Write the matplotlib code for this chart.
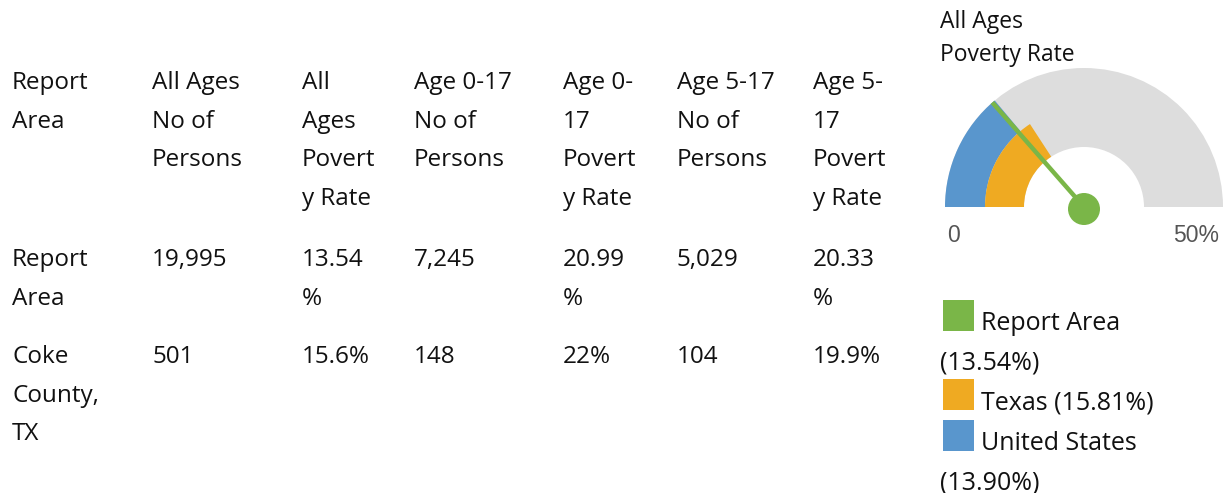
import matplotlib.pyplot as plt
from matplotlib.patches import Wedge, Circle, Rectangle
import numpy as np

# table contents (line breaks as wrapped in the source)
header = ["Report\nArea", "All Ages\nNo of\nPersons", "All\nAges\nPovert\ny Rate",
          "Age 0-17\nNo of\nPersons", "Age 0-\n17\nPovert\ny Rate",
          "Age 5-17\nNo of\nPersons", "Age 5-\n17\nPovert\ny Rate"]
row_report = ["Report\nArea", "19,995", "13.54\n%", "7,245", "20.99\n%", "5,029", "20.33\n%"]
row_coke = ["Coke\nCounty,\nTX", "501", "15.6%", "148", "22%", "104", "19.9%"]

# gauge data
gauge_title = "All Ages\nPoverty Rate"
gauge_max = 50
area_names = ["Report Area", "Texas", "United States"]
area_rates = [13.54, 15.81, 13.90]
area_colors = ["#7ab648", "#efaa22", "#5996cd"]

W, H = 1225, 493
fig = plt.figure(figsize=(W / 100, H / 100), dpi=100)
ax = fig.add_axes([0, 0, 1, 1])
ax.set_xlim(0, W)
ax.set_ylim(H, 0)
ax.axis("off")

FONT = "Open Sans"
FS = 17.5
col_x = [12, 152, 302, 414, 563, 677, 813]
pitch = 38.6


def cell(x, y, s, **kw):
    for k, line in enumerate(s.split("\n")):
        ax.text(x, y + k * pitch, line, ha="left", va="baseline",
                family=FONT, fontsize=FS, color="#111111", **kw)


for row, y0 in [(header, 89), (row_report, 266), (row_coke, 363)]:
    for x, s in zip(col_x, row):
        cell(x, y0, s)

# gauge title
for k, line in enumerate(gauge_title.split("\n")):
    ax.text(940, 28 + k * 33, line, ha="left", va="baseline",
            family=FONT, fontsize=16.5, color="#111111")

# gauge
cx, cy = 1084, 207
r_out, r_mid, r_in = 139, 99, 60


def ang(v):
    # y axis is inverted, so the upper half is 180..360 in data angles
    return 180 + v / gauge_max * 180


ax.add_patch(Wedge((cx, cy), r_out, 180, 360, width=r_out - r_in,
                   facecolor="#dddddd", edgecolor="none"))
ax.add_patch(Wedge((cx, cy), r_out, 180, ang(area_rates[2]), width=r_out - r_mid,
                   facecolor=area_colors[2], edgecolor="none"))
ax.add_patch(Wedge((cx, cy), r_mid, 180, ang(area_rates[1]), width=r_mid - r_in,
                   facecolor=area_colors[1], edgecolor="none"))
t = np.deg2rad(ang(area_rates[0]))
ax.plot([cx, cx + r_out * np.cos(t)], [cy, cy + r_out * np.sin(t)],
        color=area_colors[0], lw=3.2, solid_capstyle="butt")
ax.add_patch(Circle((cx, cy + 2), 16, facecolor=area_colors[0], edgecolor="none"))

ax.text(947, 242, "0", ha="left", va="baseline", family="Liberation Sans",
        fontsize=16.5, color="#555555")
ax.text(1219, 242, f"{gauge_max}%", ha="right", va="baseline",
        family="Liberation Sans", fontsize=16.5, color="#555555")

# legend
LFS = 18
leg_y = [330, 409, 450]
for name, rate, c, y in zip(area_names, area_rates, area_colors, leg_y):
    ax.add_patch(Rectangle((943, y - 30), 31, 31, facecolor=c, edgecolor="none"))
    label = f"{name} ({rate:.2f}%)"
    if len(label) > 15:
        ax.text(981, y, name, ha="left", va="baseline", family=FONT,
                fontsize=LFS, color="#111111")
        ax.text(940, y + 39, f"({rate:.2f}%)", ha="left", va="baseline",
                family=FONT, fontsize=LFS, color="#111111")
    else:
        ax.text(981, y, label, ha="left", va="baseline", family=FONT,
                fontsize=LFS, color="#111111")

fig.savefig("out.png", dpi=100)
